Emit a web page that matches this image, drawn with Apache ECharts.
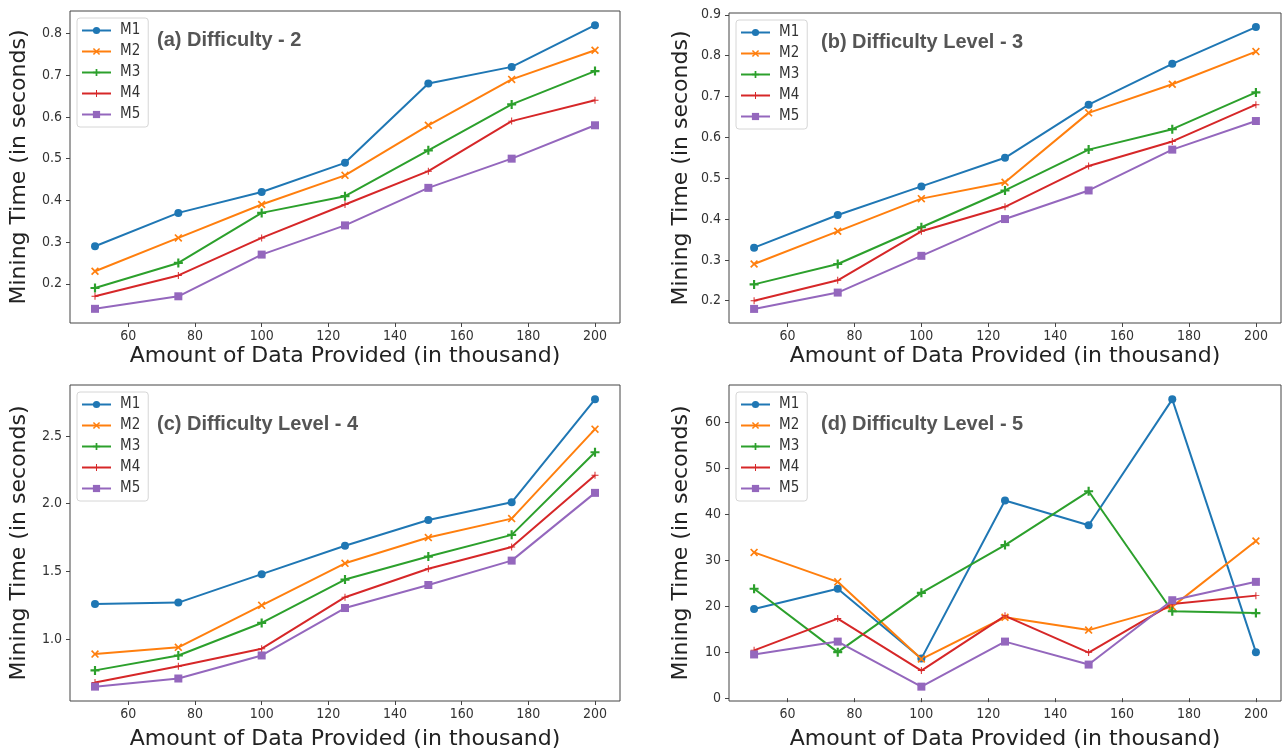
<!DOCTYPE html>
<html>
<head>
<meta charset="utf-8">
<script src="https://cdn.jsdelivr.net/npm/echarts@6/dist/echarts.min.js"></script>
<style>
  html, body { margin: 0; padding: 0; background: #fff; }
  #main { width: 1287px; height: 755px; }
</style>
</head>
<body>
<div id="main"></div>
<script>
// x values (amount of data, thousand)
var xValues = [50, 75, 100, 125, 150, 175, 200];
var methodNames = ['M1', 'M2', 'M3', 'M4', 'M5'];
var methodColors = ['#1f77b4', '#ff7f0e', '#2ca02c', '#d62728', '#9467bd'];

// (a) difficulty 2 : rows M1..M5
var diff2 = [
    [0.29, 0.37, 0.42, 0.49, 0.68, 0.72, 0.82],
    [0.23, 0.31, 0.39, 0.46, 0.58, 0.69, 0.76],
    [0.19, 0.25, 0.37, 0.41, 0.52, 0.63, 0.71],
    [0.17, 0.22, 0.31, 0.39, 0.47, 0.59, 0.64],
    [0.14, 0.17, 0.27, 0.34, 0.43, 0.50, 0.58]
];
// (b) difficulty 3
var diff3 = [
    [0.33, 0.41, 0.48, 0.55, 0.68, 0.78, 0.87],
    [0.29, 0.37, 0.45, 0.49, 0.66, 0.73, 0.81],
    [0.24, 0.29, 0.38, 0.47, 0.57, 0.62, 0.71],
    [0.20, 0.25, 0.37, 0.43, 0.53, 0.59, 0.68],
    [0.18, 0.22, 0.31, 0.40, 0.47, 0.57, 0.64]
];
// (c) difficulty 4
var diff4 = [
    [1.26, 1.27, 1.48, 1.69, 1.88, 2.01, 2.77],
    [0.89, 0.94, 1.25, 1.56, 1.75, 1.89, 2.55],
    [0.77, 0.88, 1.12, 1.44, 1.61, 1.77, 2.38],
    [0.68, 0.80, 0.93, 1.31, 1.52, 1.68, 2.21],
    [0.65, 0.71, 0.88, 1.23, 1.40, 1.58, 2.08]
];
// (d) difficulty 5
var diff5 = [
    [19.4, 23.8, 8.6, 43.0, 37.6, 65.0, 10.0],
    [31.7, 25.3, 8.5, 17.6, 14.8, 19.9, 34.2],
    [23.8, 10.0, 22.9, 33.3, 45.0, 18.9, 18.5],
    [10.4, 17.3, 6.0, 17.9, 9.9, 20.5, 22.3],
    [9.5, 12.3, 2.5, 12.3, 7.3, 21.3, 25.3]
];

var panelTitles = ['(a) Difficulty - 2', '(b) Difficulty Level - 3', '(c) Difficulty Level - 4', '(d) Difficulty Level - 5'];
var xTicks = [60, 80, 100, 120, 140, 160, 180, 200];
var yTicksA = [0.2, 0.3, 0.4, 0.5, 0.6, 0.7, 0.8];
var yTicksB = [0.2, 0.3, 0.4, 0.5, 0.6, 0.7, 0.8, 0.9];
var yTicksC = [1.0, 1.5, 2.0, 2.5];
var yTicksD = [0, 10, 20, 30, 40, 50, 60];

var myChart = echarts.init(document.getElementById('main'));

// marker shapes (circle, x, plus, thin plus, square)
var symbols = [
    'circle',
    'path://M1.5,0 L5,3.5 L8.5,0 L10,1.5 L6.5,5 L10,8.5 L8.5,10 L5,6.5 L1.5,10 L0,8.5 L3.5,5 L0,1.5 Z',
    'path://M3.8,0 H6.2 V3.8 H10 V6.2 H6.2 V10 H3.8 V6.2 H0 V3.8 H3.8 Z',
    'path://M4.3,0 H5.7 V4.3 H10 V5.7 H5.7 V10 H4.3 V5.7 H0 V4.3 H4.3 Z',
    'rect'
];
var symbolSizes = [8, 8, 9, 7, 8];

var panels = [
    {data: diff2, ticks: yTicksA, grid: {left: 70, top: 11, width: 550, height: 312}, digits: 1},
    {data: diff3, ticks: yTicksB, grid: {left: 729, top: 13, width: 552, height: 310}, digits: 1},
    {data: diff4, ticks: yTicksC, grid: {left: 70, top: 385, width: 550, height: 316}, digits: 1},
    {data: diff5, ticks: yTicksD, grid: {left: 729, top: 385, width: 552, height: 316}, digits: 0}
];

var tickFont = 'DejaVu Sans Condensed, DejaVu Sans, sans-serif';
var grids = [], xAxes = [], yAxes = [], series = [], legends = [], titles = [];

panels.forEach(function (p, i) {
    // matplotlib style 5% margins
    var all = [].concat.apply([], p.data);
    var lo = Math.min.apply(null, all), hi = Math.max.apply(null, all);
    var pad = (hi - lo) * 0.05;

    grids.push({
        left: p.grid.left, top: p.grid.top, width: p.grid.width, height: p.grid.height,
        show: true, borderColor: '#444', borderWidth: 1, backgroundColor: 'transparent'
    });
    xAxes.push({
        type: 'value', gridIndex: i, min: 42.5, max: 207.5,
        splitLine: {show: false}, axisLine: {show: false},
        axisTick: {show: true, length: 4, lineStyle: {color: '#444'}, customValues: xTicks},
        axisLabel: {color: '#333', fontSize: 14, fontFamily: tickFont, margin: 6, customValues: xTicks},
        name: 'Amount of Data Provided (in thousand)', nameLocation: 'middle',
        nameGap: i < 2 ? 22 : 27,
        nameTextStyle: {fontSize: 22, fontFamily: 'DejaVu Sans', color: '#222'}
    });
    yAxes.push({
        type: 'value', gridIndex: i, min: lo - pad, max: hi + pad,
        splitLine: {show: false}, axisLine: {show: false},
        axisTick: {show: true, length: 4, lineStyle: {color: '#444'}, customValues: p.ticks},
        axisLabel: {
            color: '#333', fontSize: 14, fontFamily: tickFont, margin: 8, customValues: p.ticks,
            formatter: function (v) { return v.toFixed(p.digits); }
        },
        name: 'Mining Time (in seconds)', nameLocation: 'middle',
        nameGap: i % 2 === 0 ? 40 : 37,
        nameTextStyle: {fontSize: 22, fontFamily: 'DejaVu Sans', color: '#222'}
    });
    p.data.forEach(function (row, k) {
        series.push({
            name: methodNames[k],
            type: 'line',
            xAxisIndex: i, yAxisIndex: i,
            data: xValues.map(function (x, j) { return [x, row[j]]; }),
            symbol: symbols[k],
            symbolSize: symbolSizes[k],
            showAllSymbol: true,
            color: methodColors[k],
            lineStyle: {width: 2, color: methodColors[k]},
            itemStyle: {color: methodColors[k], borderWidth: 0},
            emphasis: {disabled: true},
            animation: false
        });
    });
    legends.push({
        data: methodNames,
        orient: 'vertical',
        left: p.grid.left + 7,
        top: p.grid.top + 7,
        itemWidth: 29, itemHeight: 9, itemGap: 6,
        padding: [5, 8, 5, 4],
        backgroundColor: 'rgba(255,255,255,0.85)',
        borderColor: '#d6d6d6', borderWidth: 1, borderRadius: 3,
        itemStyle: {borderWidth: 0},
        lineStyle: {width: 2},
        textStyle: {fontSize: 15, fontFamily: tickFont, color: '#333', padding: [0, 0, 0, 4]}
    });
    titles.push({
        text: panelTitles[i],
        left: p.grid.left + (i % 2 === 0 ? 87 : 92),
        top: p.grid.top + (i < 2 ? 19 : 29),
        padding: 0,
        textStyle: {fontSize: 20, fontWeight: 'bold', fontFamily: 'Liberation Sans Narrow, Liberation Sans, sans-serif', color: '#555'}
    });
});

var option = {
    backgroundColor: '#fff',
    animation: false,
    title: titles,
    legend: legends,
    grid: grids,
    xAxis: xAxes,
    yAxis: yAxes,
    series: series
};
myChart.setOption(option);
</script>
</body>
</html>
